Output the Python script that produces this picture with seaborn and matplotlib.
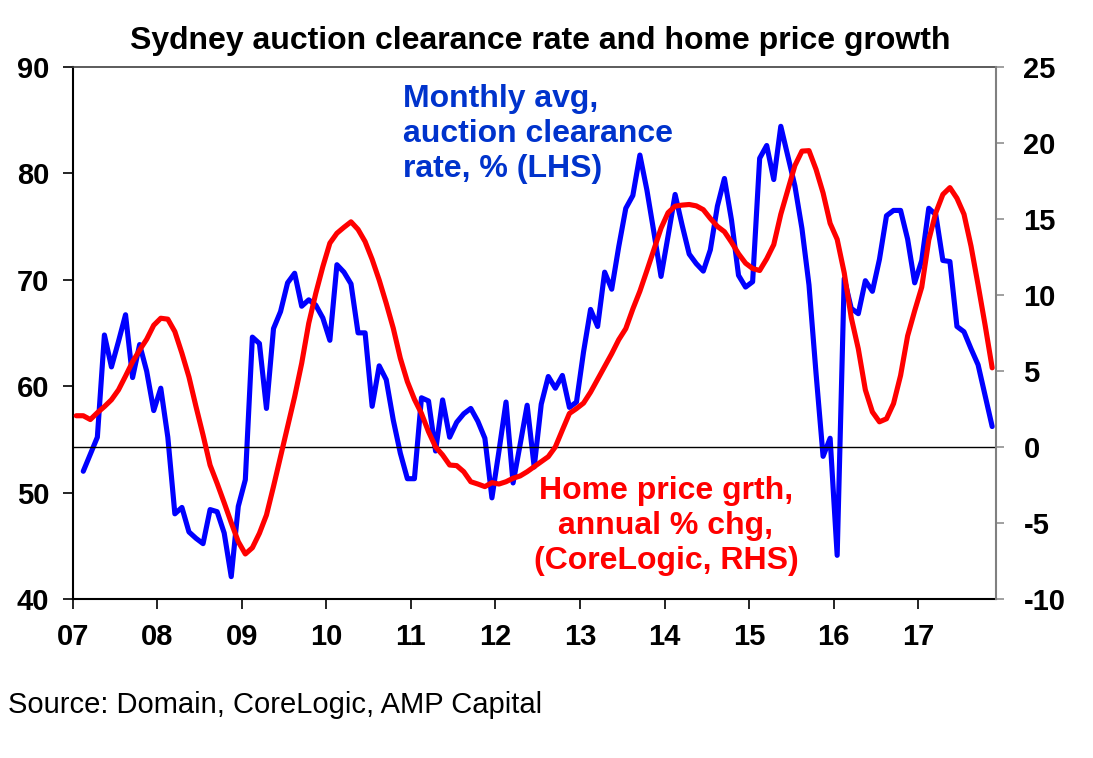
import matplotlib
matplotlib.use('Agg')
import matplotlib.pyplot as plt
import seaborn as sns
import numpy as np
import pandas as pd

# Monthly data, Jan 2007 - Nov 2017 (131 months)
# Sydney auction clearance rate, monthly avg %, starts Feb 2007
clearance_rate = [
    52.0, 53.6, 55.2, 64.8, 61.8, 64.2, 66.7, 60.8, 63.9, 61.4, 57.7,          # 2007 Feb-Dec
    59.8, 55.2, 48.0, 48.6, 46.3, 45.7, 45.2, 48.4, 48.2, 46.2, 42.1, 48.7,    # 2008
    51.2, 64.6, 64.0, 57.9, 65.4, 67.0, 69.7, 70.6, 67.5, 68.1, 67.6, 66.4,    # 2009
    64.3, 71.4, 70.7, 69.6, 65.0, 65.0, 58.1, 61.9, 60.6, 56.8, 53.7, 51.3,    # 2010
    51.3, 58.9, 58.6, 53.9, 58.7, 55.2, 56.6, 57.4, 57.9, 56.7, 55.1, 49.5,    # 2011
    53.9, 58.5, 50.9, 54.5, 58.2, 52.4, 58.3, 60.9, 59.8, 61.0, 58.0, 58.5,    # 2012
    63.2, 67.2, 65.6, 70.7, 69.1, 73.1, 76.7, 77.9, 81.7, 78.4, 74.4, 70.3,    # 2013
    74.1, 78.0, 75.1, 72.4, 71.5, 70.8, 72.8, 76.9, 79.5, 75.6, 70.4, 69.3,    # 2014
    69.8, 81.4, 82.6, 79.4, 84.4, 81.6, 78.8, 74.8, 69.5, 61.2, 53.4, 55.1,    # 2015
    44.1, 70.1, 67.3, 66.8, 69.9, 68.9, 71.9, 76.0, 76.5, 76.5, 73.8, 69.7,    # 2016
    71.8, 76.7, 76.1, 71.8, 71.7, 65.6, 65.1, 63.5, 62.0, 59.1, 56.2,          # 2017 Jan-Nov
]

# Home price growth, annual % change (CoreLogic), Jan 2007 - Nov 2017
price_growth = [
    2.05, 2.05, 1.8, 2.25, 2.65, 3.1, 3.75, 4.66, 5.6, 6.37, 7.08, 8.0,        # 2007
    8.46, 8.4, 7.58, 6.16, 4.6, 2.65, 0.78, -1.2, -2.4, -3.67, -4.98, -6.23,   # 2008
    -7.04, -6.63, -5.68, -4.48, -2.6, -0.64, 1.33, 3.3, 5.5, 8.13, 10.1, 11.85,  # 2009
    13.4, 14.05, 14.44, 14.8, 14.3, 13.5, 12.33, 10.97, 9.44, 7.8, 5.83, 4.29,  # 2010
    3.13, 2.2, 1.0, 0.0, -0.53, -1.19, -1.23, -1.63, -2.29, -2.44, -2.61, -2.35,  # 2011
    -2.44, -2.29, -2.06, -1.91, -1.63, -1.3, -0.97, -0.64, 0.0, 1.11, 2.2, 2.52,  # 2012
    2.88, 3.6, 4.44, 5.27, 6.13, 7.05, 7.78, 9.07, 10.24, 11.6, 13.0, 14.38,   # 2013
    15.4, 15.83, 15.9, 15.94, 15.85, 15.6, 15.02, 14.5, 14.15, 13.46, 12.7, 12.08,  # 2014
    11.73, 11.6, 12.37, 13.3, 15.3, 16.9, 18.5, 19.45, 19.48, 18.25, 16.7, 14.7,  # 2015
    13.65, 11.45, 8.5, 6.45, 3.75, 2.3, 1.65, 1.85, 2.85, 4.7, 7.3, 8.95,      # 2016
    10.5, 13.6, 15.4, 16.6, 17.05, 16.35, 15.3, 13.2, 10.65, 8.0, 5.2,         # 2017
]

year_ticks = list(range(2007, 2018))
year_labels = ['07', '08', '09', '10', '11', '12', '13', '14', '15', '16', '17']
lhs_ticks = [40, 50, 60, 70, 80, 90]
rhs_ticks = [-10, -5, 0, 5, 10, 15, 20, 25]

n_months = len(price_growth)
# points sit in the middle of each monthly category
month_pos = 2007 + (np.arange(n_months) + 0.5) / 12

df_price = pd.DataFrame({'x': month_pos, 'growth': price_growth})
df_clear = pd.DataFrame({'x': month_pos[n_months - len(clearance_rate):],
                         'rate': clearance_rate})

sns.set_style('white')
plt.rcParams['font.family'] = ['Liberation Sans', 'DejaVu Sans']
plt.rcParams['axes.unicode_minus'] = False
plt.rcParams['text.color'] = 'black'
plt.rcParams['xtick.color'] = 'black'
plt.rcParams['ytick.color'] = 'black'
plt.rcParams['xtick.labelcolor'] = 'black'
plt.rcParams['ytick.labelcolor'] = 'black'

W, H = 1093, 758
fig = plt.figure(figsize=(W / 100, H / 100), dpi=100)
ax = fig.add_axes([72.7 / W, 1 - 599 / H, (995.7 - 72.7) / W, (599 - 66.7) / H])
ax2 = ax.twinx()

sns.lineplot(data=df_clear, x='x', y='rate', ax=ax, color='#0000ff',
             linewidth=3.7, zorder=3)
sns.lineplot(data=df_price, x='x', y='growth', ax=ax2, color='#ff0000',
             linewidth=3.7, zorder=3)
ax2.axhline(0, color='black', linewidth=1.0, zorder=1)

ax.set_xlim(2007, 2007 + n_months / 12)
ax.set_ylim(40, 90)
ax2.set_ylim(-10, 25)

ax.set_xticks(year_ticks, labels=year_labels, fontweight='bold', fontsize=21)
ax.set_yticks(lhs_ticks, labels=[str(v) for v in lhs_ticks],
              fontweight='bold', fontsize=21)
ax2.set_yticks(rhs_ticks, labels=[str(v) for v in rhs_ticks],
               fontweight='bold', fontsize=21)

ax.set_xlabel('')
ax.set_ylabel('')
ax2.set_ylabel('')

ax.tick_params(axis='x', direction='out', length=7, width=1.2, color='black',
               labelcolor='black', pad=10, bottom=True)
ax.tick_params(axis='y', direction='out', length=7, width=1.2, color='black',
               labelcolor='black', pad=10, left=True)
ax2.tick_params(axis='y', direction='out', length=6, width=1.2, color='#909090',
                labelcolor='black', pad=14, right=True)

for side in ['left', 'bottom']:
    ax.spines[side].set_color('black')
    ax.spines[side].set_linewidth(1.5)
ax.spines['top'].set_color('#404040')
ax.spines['top'].set_linewidth(1.2)
ax.spines['right'].set_visible(False)
for side in ['left', 'top', 'bottom']:
    ax2.spines[side].set_visible(False)
ax2.spines['right'].set_color('#808080')
ax2.spines['right'].set_linewidth(1.5)
ax.grid(False)
ax2.grid(False)

fig.text(540 / W, 1 - 41 / H, 'Sydney auction clearance rate and home price growth',
         ha='center', va='center', fontsize=23, fontweight='bold', color='black')

ax.text(403 / W, 1 - 84 / H, 'Monthly avg,\nauction clearance\nrate, % (LHS)',
        transform=fig.transFigure, ha='left', va='top', fontsize=23,
        fontweight='bold', color='#0033cc', linespacing=1.22, zorder=5)
ax.text(666 / W, 1 - 476 / H, 'Home price grth,\nannual % chg,\n(CoreLogic, RHS)',
        transform=fig.transFigure, ha='center', va='top', fontsize=23,
        fontweight='bold', color='#ff0000', linespacing=1.22, multialignment='center',
        zorder=5)

fig.text(8 / W, 1 - 705 / H, 'Source: Domain, CoreLogic, AMP Capital',
         ha='left', va='center', fontsize=21, color='black')

fig.savefig('out.png', dpi=100)
